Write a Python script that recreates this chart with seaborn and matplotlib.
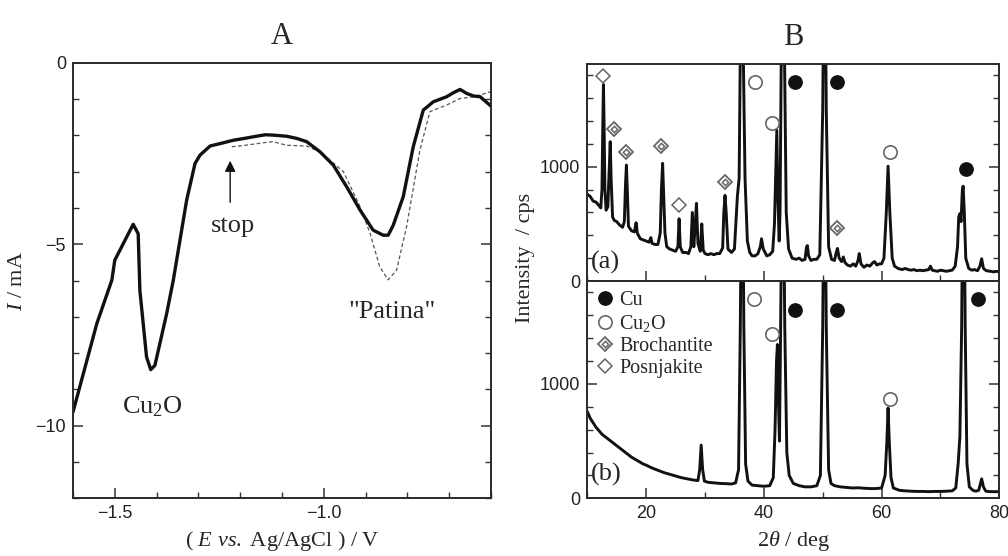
"""Cathodic reduction curve (A) and XRD patterns (B) of a patinated copper sample."""

import matplotlib.pyplot as plt
from matplotlib.lines import Line2D
from matplotlib.legend_handler import HandlerTuple
import seaborn as sns

sns.set_style('ticks')
plt.rcParams['font.family'] = ['Liberation Serif', 'DejaVu Serif']
plt.rcParams['mathtext.fontset'] = 'custom'
plt.rcParams['mathtext.rm'] = 'Liberation Serif'
plt.rcParams['mathtext.it'] = 'Liberation Serif:italic'
plt.rcParams['axes.unicode_minus'] = True

TICKFONT = 'Liberation Sans'
LABELSIZE = 16
TEXTSIZE = 19
INK = '#222222'

# ---- panel A: reduction curves -------------------------------------------
pot_full = [-1.600, -1.543, -1.507, -1.500, -1.456, -1.444, -1.440, -1.424,
            -1.414, -1.404, -1.376, -1.360, -1.328, -1.308, -1.296, -1.272,
            -1.240, -1.216, -1.190, -1.161, -1.140, -1.121, -1.089, -1.065,
            -1.041, -1.009, -0.977, -0.945, -0.913, -0.882, -0.858, -0.846,
            -0.834, -0.810, -0.786, -0.762, -0.738, -0.706, -0.690, -0.674,
            -0.658, -0.642, -0.626, -0.600]
cur_full = [-9.63, -7.19, -5.99, -5.44, -4.45, -4.71, -6.27, -8.11,
            -8.46, -8.34, -6.92, -5.99, -3.78, -2.77, -2.54, -2.29,
            -2.20, -2.13, -2.08, -2.02, -1.98, -1.99, -2.02, -2.08,
            -2.17, -2.45, -2.82, -3.42, -4.06, -4.61, -4.75, -4.75,
            -4.48, -3.69, -2.31, -1.30, -1.07, -0.93, -0.82, -0.73,
            -0.84, -0.91, -0.93, -1.19]

pot_stop = [-1.220, -1.195, -1.169, -1.145, -1.121, -1.089, -1.041, -1.010,
            -0.985, -0.953, -0.913, -0.889, -0.866, -0.846, -0.826, -0.802,
            -0.770, -0.746, -0.706, -0.674, -0.640, -0.600]
cur_stop = [-2.31, -2.28, -2.24, -2.20, -2.17, -2.27, -2.29, -2.45,
            -2.68, -3.00, -3.97, -4.71, -5.63, -5.98, -5.72, -4.52,
            -2.40, -1.34, -1.16, -0.98, -0.93, -0.79]

# ---- panel B: XRD patterns -----------------------------------------------
tt_a = [10.0, 10.5, 11.0, 11.5, 12.0, 12.3, 12.5, 12.65, 12.75, 12.85, 13.0,
        13.2, 13.5, 13.75, 13.9, 14.05, 14.3, 14.6, 15.0, 15.5, 16.0, 16.3,
        16.5, 16.65, 16.8, 17.0, 17.5, 18.0, 18.3, 18.5, 19.0, 19.5, 20.0,
        20.5, 20.8, 21.0, 21.5, 22.0, 22.4, 22.6, 22.8, 22.95, 23.2, 23.5,
        24.0, 24.5, 25.0, 25.4, 25.6, 25.8, 26.2, 26.8, 27.2, 27.6, 27.85,
        28.1, 28.35, 28.55, 28.8, 29.2, 29.45, 29.7, 30.0, 30.5, 31.0, 31.5,
        32.0, 32.5, 33.0, 33.2, 33.4, 33.6, 33.9, 34.5, 35.0, 35.3, 35.5,
        35.8, 36.0, 36.25, 36.5, 36.8, 37.2, 37.6, 38.0, 38.5, 39.0, 39.4,
        39.6, 39.9, 40.5, 41.0, 41.5, 41.8, 42.05, 42.2, 42.4, 42.6, 42.75,
        42.95, 43.2, 43.5, 43.8, 44.2, 44.8, 45.5, 46.0, 46.5, 47.0, 47.25,
        47.4, 47.6, 48.0, 48.5, 49.0, 49.5, 50.0, 50.3, 50.6, 51.0, 51.5,
        52.0, 52.3, 52.5, 52.8, 53.2, 53.5, 53.8, 54.2, 54.7, 55.2, 55.6,
        56.0, 56.2, 56.5, 57.0, 57.5, 58.0, 58.5, 58.8, 59.2, 59.6, 60.0,
        60.4, 60.8, 61.1, 61.4, 61.8, 62.2, 62.8, 63.5, 64.0, 64.5, 65.0,
        65.5, 66.0, 66.5, 67.0, 67.5, 68.0, 68.3, 68.6, 69.0, 69.5, 70.0,
        70.5, 71.0, 71.5, 72.0, 72.5, 72.9, 73.1, 73.3, 73.5, 73.7, 73.85,
        74.05, 74.3, 74.8, 75.3, 75.8, 76.3, 76.7, 77.0, 77.3, 77.8, 78.5,
        79.0, 79.5, 80.0]
cps_a = [760, 740, 700, 690, 660, 640, 800, 1400, 1720, 1400, 800,
         620, 650, 1000, 1220, 900, 560, 530, 520, 490, 470, 520,
         850, 1015, 800, 480, 440, 430, 510, 420, 370, 360, 350,
         340, 380, 330, 320, 320, 420, 800, 1030, 800, 420, 300,
         280, 270, 260, 300, 545, 300, 250, 250, 240, 300, 600,
         300, 500, 680, 330, 260, 500, 270, 240, 230, 240, 230,
         240, 240, 290, 600, 750, 600, 280, 250, 280, 550, 740,
         900, 2000, 3500, 2000, 900, 350, 250, 220, 220, 240, 300,
         370, 280, 220, 230, 260, 500, 1000, 1320, 700, 350, 600,
         2000, 3500, 2000, 600, 280, 200, 190, 200, 180, 190, 300,
         310, 220, 180, 190, 190, 230, 1500, 3500, 1500, 300, 190,
         180, 250, 285, 200, 170, 210, 160, 140, 130, 150, 130,
         180, 240, 150, 120, 140, 130, 160, 170, 140, 150, 150,
         200, 600, 1005, 600, 200, 130, 110, 100, 110, 100, 95,
         100, 90, 95, 90, 95, 100, 130, 95, 90, 85, 95,
         90, 85, 90, 95, 130, 300, 560, 590, 520, 780, 830,
         600, 200, 110, 95, 100, 90, 130, 195, 110, 90, 85,
         80, 85, 80]

tt_b = [10.0, 10.5, 11.0, 11.5, 12.0, 12.5, 13.0, 13.5, 14.0, 14.5, 15.0,
        15.5, 16.0, 16.5, 17.0, 17.5, 18.0, 18.5, 19.0, 19.5, 20.0, 21.0,
        22.0, 23.0, 24.0, 25.0, 26.0, 27.0, 28.0, 28.8, 29.1, 29.35, 29.6,
        29.9, 30.5, 31.5, 32.5, 33.5, 34.5, 35.2, 35.7, 36.0, 36.3, 36.6,
        36.9, 37.3, 38.0, 39.0, 40.0, 41.0, 41.6, 41.9, 42.15, 42.3, 42.45,
        42.65, 42.85, 43.2, 43.55, 43.9, 44.3, 45.0, 46.0, 47.0, 48.0, 49.0,
        49.6, 50.0, 50.3, 50.6, 51.0, 51.4, 52.0, 53.0, 54.0, 55.0, 56.0,
        57.0, 58.0, 59.0, 60.0, 60.6, 60.9, 61.1, 61.3, 61.6, 62.0, 63.0,
        64.0, 65.0, 66.0, 67.0, 68.0, 69.0, 70.0, 71.0, 72.0, 72.6, 73.0,
        73.3, 73.6, 73.9, 74.2, 74.5, 74.9, 75.5, 76.0, 76.5, 77.0, 77.3,
        77.7, 78.5, 79.5, 80.0]
cps_b = [760, 700, 660, 620, 590, 560, 540, 520, 500, 480, 460,
         440, 420, 400, 380, 360, 345, 330, 315, 300, 290, 265,
         245, 225, 210, 195, 180, 170, 160, 155, 250, 465, 250,
         150, 140, 135, 130, 128, 125, 135, 250, 1500, 3500, 1500,
         300, 150, 115, 110, 105, 110, 180, 600, 1200, 1345, 900,
         500, 1500, 3500, 1500, 400, 200, 130, 110, 100, 100, 110,
         200, 1500, 3500, 1500, 250, 130, 110, 100, 95, 90, 92,
         88, 85, 85, 90, 200, 500, 790, 500, 180, 90, 70,
         65, 62, 60, 60, 58, 60, 60, 62, 65, 90, 300,
         540, 1500, 3500, 1500, 300, 100, 70, 62, 70, 170, 100,
         62, 58, 58, 58]

# phase marker positions (2theta, cps)
cu_a = ([45.3, 52.4, 74.3], [1746, 1746, 977])
cu2o_a = ([38.5, 41.4, 61.4], [1746, 1386, 1126])
broch_a = ([14.5, 16.6, 22.5, 33.45, 52.4], [1330, 1126, 1180, 869, 460])
posn_a = ([12.6, 25.5], [1795, 664])
cu_b = ([45.3, 52.4, 76.3], [1643, 1643, 1745])
cu2o_b = ([38.4, 41.4, 61.4], [1745, 1438, 871])

fig = plt.figure(figsize=(10.08, 5.56), dpi=100)
axA = fig.add_axes([0.0724, 0.1043, 0.4147, 0.7824])
axBa = fig.add_axes([0.5826, 0.4946, 0.4088, 0.3903])
axBb = fig.add_axes([0.5826, 0.1038, 0.4088, 0.3908])


def style_axes(ax):
    for sp in ax.spines.values():
        sp.set_linewidth(1.4)
        sp.set_color('#2a2a2a')
    ax.tick_params(which='both', direction='in', left=True, right=True,
                   top=False, bottom=True, colors='#333333', labelcolor=INK,
                   labelsize=13, pad=5)
    ax.tick_params(which='major', length=7, width=1.1)
    ax.tick_params(which='minor', length=4, width=1.0)
    for lab in ax.get_xticklabels() + ax.get_yticklabels():
        lab.set_fontfamily(TICKFONT)


# ---- A ----
sns.lineplot(x=pot_stop, y=cur_stop, ax=axA, sort=False, estimator=None,
             color='#555555', lw=0.9, linestyle=(0, (3, 2)))
sns.lineplot(x=pot_full, y=cur_full, ax=axA, sort=False, estimator=None,
             color='#111111', lw=2.4)
axA.set_xlim(-1.6, -0.6)
axA.set_ylim(-12, 0)
axA.set_xticks([-1.5, -1.0])
axA.set_xticks([-1.6 + 0.1 * i for i in range(11)], minor=True)
axA.set_yticks([0, -5, -10])
axA.set_yticks(range(-12, 1), minor=True)
axA.set_xticklabels(['\u22121.5', '\u22121.0'])
axA.set_yticklabels(['0', '\u22125', '\u221210'])
style_axes(axA)
axA.set_xlabel(r'( $E$ $\mathit{vs.}$ Ag/AgCl ) / V', fontsize=LABELSIZE,
               labelpad=5)
axA.set_ylabel('$I$ / mA', fontsize=LABELSIZE, labelpad=6)
axA.set_title('A', fontsize=22, pad=14)
axA.text(-1.409, -9.47, 'Cu$_2$O', fontsize=TEXTSIZE, ha='center',
         va='center')
axA.text(-0.837, -6.88, '"Patina"', fontsize=TEXTSIZE, ha='center',
         va='center')
axA.text(-1.218, -4.5, 'stop', fontsize=TEXTSIZE, ha='center', va='center')
axA.annotate('', xy=(-1.224, -2.62), xytext=(-1.224, -3.92),
             arrowprops=dict(arrowstyle='-|>', color='#111111', lw=1.0,
                             mutation_scale=16))

# ---- B ----
GREY = '#666666'
for ax, tt, cps in [(axBa, tt_a, cps_a), (axBb, tt_b, cps_b)]:
    sns.lineplot(x=tt, y=cps, ax=ax, sort=False, estimator=None,
                 color='#111111', lw=2.1)
    ax.set_xlim(10, 80)
    ax.set_ylim(0, 1900)
    ax.set_xticks([20, 40, 60, 80])
    ax.set_xticks(range(10, 81, 10), minor=True)
    ax.set_yticks([0, 1000])
    ax.set_yticks(range(0, 1900, 200), minor=True)
    style_axes(ax)
    ax.set_xlabel('')


def mark_cu(ax, pos):
    ax.plot(*pos, ls='none', marker='o', ms=9.6, mfc='#111111', mec='#111111')


def mark_cu2o(ax, pos):
    ax.plot(*pos, ls='none', marker='o', ms=9.6, mfc='white', mec=GREY,
            mew=1.2)


def mark_broch(ax, pos):
    ax.plot(*pos, ls='none', marker='D', ms=7.2, mfc='white', mec=GREY,
            mew=1.3)
    ax.plot(*pos, ls='none', marker='D', ms=3.2, mfc='white', mec=GREY,
            mew=1.1)


def mark_posn(ax, pos):
    ax.plot(*pos, ls='none', marker='D', ms=7.4, mfc='white', mec=GREY,
            mew=1.1)


mark_cu(axBa, cu_a)
mark_cu2o(axBa, cu2o_a)
mark_broch(axBa, broch_a)
mark_posn(axBa, posn_a)
mark_cu(axBb, cu_b)
mark_cu2o(axBb, cu2o_b)

axBa.tick_params(labelbottom=False)
axBa.set_title('B', fontsize=22, pad=14)
axBa.text(0.008, 0.085, '(a)', transform=axBa.transAxes, fontsize=TEXTSIZE,
          ha='left', va='center')
axBb.text(0.008, 0.11, '(b)', transform=axBb.transAxes, fontsize=TEXTSIZE,
          ha='left', va='center')
axBb.set_xlabel(r'2$\theta$ / deg', fontsize=LABELSIZE, labelpad=5)
fig.text(0.521, 0.536, 'Intensity  / cps', rotation=90, fontsize=LABELSIZE,
         ha='center', va='center')

h_cu = Line2D([], [], ls='none', marker='o', ms=9.6, mfc='#111111',
              mec='#111111')
h_cu2o = Line2D([], [], ls='none', marker='o', ms=9.6, mfc='white', mec=GREY,
                mew=1.2)
h_b1 = Line2D([], [], ls='none', marker='D', ms=7.2, mfc='white', mec=GREY,
              mew=1.3)
h_b2 = Line2D([], [], ls='none', marker='D', ms=3.2, mfc='white', mec=GREY,
              mew=1.1)
h_posn = Line2D([], [], ls='none', marker='D', ms=7.4, mfc='white', mec=GREY,
                mew=1.1)
axBb.legend([h_cu, h_cu2o, (h_b1, h_b2), h_posn],
            ['Cu', 'Cu$_2$O', 'Brochantite', 'Posnjakite'],
            handler_map={tuple: HandlerTuple(ndivide=1, pad=0)},
            loc='upper left', bbox_to_anchor=(0.0, 1.0), frameon=False,
            fontsize=14.5, handlelength=0.8, handletextpad=0.3,
            labelspacing=0.15, borderaxespad=0.3, borderpad=0.2)

fig.savefig('out.png', dpi=100)
